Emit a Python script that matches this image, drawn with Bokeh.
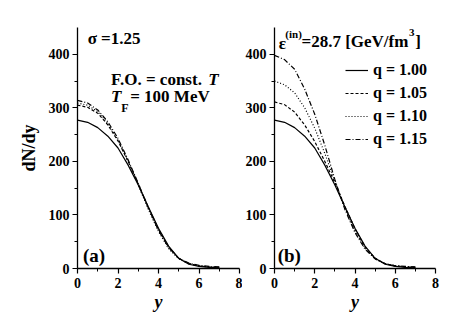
from bokeh.plotting import figure
from bokeh.layouts import row
from bokeh.models import Label, Legend, LegendItem, FixedTicker
from bokeh.embed import file_html
from bokeh.resources import INLINE

# ---- data ----
y_rap = [0.0, 0.5, 1.0, 1.5, 2.0, 2.5, 3.0, 3.5, 4.0, 4.5, 5.0, 5.5, 6.0, 6.5, 7.0]

# panel (a): sigma = 1.25, F.O. = const. T
a_q100 = [277, 273, 263, 247, 225, 193, 156, 115, 75, 42, 19, 8, 4, 2, 1]
a_q105 = [305, 301, 290, 268, 238, 200, 158, 114, 73, 40, 19, 9, 5, 3, 2]
a_q110 = [309, 305, 293, 271, 240, 200, 156, 110, 69, 37, 18, 9, 5, 3, 2]
a_q115 = [314, 309, 296, 274, 243, 203, 159, 113, 71, 39, 19, 10, 6, 4, 3]

# panel (b): eps(in) = 28.7 GeV/fm^3
b_q100 = [277, 273, 263, 247, 225, 193, 156, 115, 75, 42, 19, 8, 4, 2, 1]
b_q105 = [311, 306, 292, 268, 237, 200, 160, 116, 74, 40, 19, 9, 5, 3, 2]
b_q110 = [350, 343, 328, 300, 262, 215, 163, 113, 70, 38, 18, 9, 5, 3, 2]
b_q115 = [398, 390, 372, 335, 288, 230, 166, 110, 67, 36, 18, 9, 5, 4, 3]

q_labels = ["q = 1.00", "q = 1.05", "q = 1.10", "q = 1.15"]
x_ticks = [0, 2, 4, 6, 8]
x_minor = [1, 3, 5, 7]
y_ticks = [0, 100, 200, 300, 400]
y_minor = [50, 150, 250, 350]

FONT = "Liberation Serif"
dashes = ["solid", "3 2", "1 2", "5 2 1 2"]


def style(p, ylabel):
    p.outline_line_color = None
    p.xgrid.visible = False
    p.ygrid.visible = False
    p.xaxis.ticker = FixedTicker(ticks=x_ticks, minor_ticks=x_minor)
    p.yaxis.ticker = FixedTicker(ticks=y_ticks, minor_ticks=y_minor)
    for ax in (p.xaxis[0], p.yaxis[0]):
        ax.axis_line_width = 1.3
        ax.axis_line_color = "black"
        ax.major_tick_line_color = "black"
        ax.minor_tick_line_color = "black"
        ax.major_tick_line_width = 1.2
        ax.minor_tick_line_width = 1.0
        ax.major_tick_in = 0
        ax.major_tick_out = 5
        ax.minor_tick_in = 0
        ax.minor_tick_out = 3
        ax.major_label_text_font = FONT
        ax.major_label_text_font_style = "bold"
        ax.major_label_text_font_size = "14px"
        ax.major_label_text_color = "black"
        ax.axis_label_text_font = FONT
        ax.axis_label_text_color = "black"
    p.xaxis.major_label_standoff = 4
    p.yaxis.major_label_standoff = 3
    p.xaxis.axis_label = "y"
    p.xaxis.axis_label_text_font_style = "bold italic"
    p.xaxis.axis_label_text_font_size = "18px"
    p.xaxis.axis_label_standoff = 1
    if ylabel:
        p.yaxis.axis_label = ylabel
        p.yaxis.axis_label_text_font_style = "bold"
        p.yaxis.axis_label_text_font_size = "18px"
        p.yaxis.axis_label_standoff = 7


def lab(p, x, y, text, size="17px", fstyle="bold", align="left"):
    p.add_layout(Label(x=x, y=y, text=text, text_font=FONT, text_font_size=size,
                       text_font_style=fstyle, text_align=align,
                       text_baseline="middle", text_color="black"))


# ---- panel (a) ----
p1 = figure(frame_width=162, frame_height=241, x_range=(0, 8), y_range=(0, 450),
            min_border_left=77, min_border_right=3, min_border_top=27, min_border_bottom=58,
            output_backend="svg", toolbar_location=None)
for ys, d in zip([a_q100, a_q105, a_q110, a_q115], dashes):
    p1.line(y_rap, ys, line_color="black", line_width=1.2, line_dash=d)
style(p1, "dN/dy")
lab(p1, 0.5, 429, "σ =1.25")
lab(p1, 1.66, 352, "F.O. = const.")
lab(p1, 6.46, 352, "T", fstyle="bold italic")
lab(p1, 1.66, 321, "T", fstyle="bold italic")
lab(p1, 2.16, 299, "F", size="12px")
lab(p1, 2.6, 321, "= 100 MeV")
lab(p1, 0.27, 25, "(a)", size="19px")

# ---- panel (b) ----
p2 = figure(frame_width=161, frame_height=241, x_range=(0, 8), y_range=(0, 450),
            min_border_left=32, min_border_right=20, min_border_top=27, min_border_bottom=58,
            output_backend="svg", toolbar_location=None)
rs = []
for ys, d in zip([b_q100, b_q105, b_q110, b_q115], dashes):
    rs.append(p2.line(y_rap, ys, line_color="black", line_width=1.2, line_dash=d))
style(p2, None)
lab(p2, 0.21, 421, "ε")
lab(p2, 0.54, 438, "(in)", size="11px")
lab(p2, 1.34, 424, "=28.7 [GeV/fm")
lab(p2, 6.68, 441, "3", size="11px")
lab(p2, 6.99, 424, "]")
lab(p2, 0.16, 25, "(b)", size="19px")

legend = Legend(items=[LegendItem(label=t, renderers=[r]) for t, r in zip(q_labels, rs)],
                location=(71, 120), orientation="vertical",
                glyph_width=23, glyph_height=16, label_height=16, label_standoff=5,
                spacing=5, padding=0, margin=0,
                border_line_color=None, background_fill_alpha=0,
                label_text_font=FONT, label_text_font_style="bold",
                label_text_font_size="16px", label_text_color="black")
p2.add_layout(legend, "center")

layout = row(p1, p2)
open("out.html", "w").write(file_html(layout, INLINE))
